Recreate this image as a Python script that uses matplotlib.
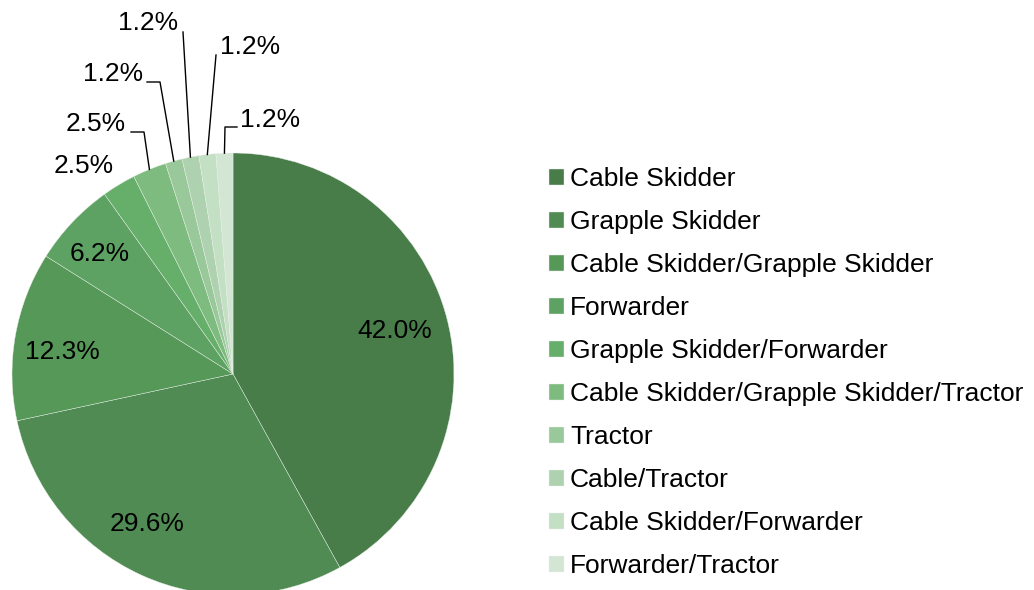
import matplotlib
matplotlib.use("Agg")
import matplotlib.pyplot as plt
import numpy as np

plt.rcParams['font.family'] = ['Liberation Sans', 'DejaVu Sans']

categories = ["Cable Skidder", "Grapple Skidder", "Cable Skidder/Grapple Skidder",
              "Forwarder", "Grapple Skidder/Forwarder",
              "Cable Skidder/Grapple Skidder/Tractor", "Tractor", "Cable/Tractor",
              "Cable Skidder/Forwarder", "Forwarder/Tractor"]
counts = [34, 24, 10, 5, 2, 2, 1, 1, 1, 1]
colors = ["#487D4A", "#4F8B53", "#569858", "#5DA262", "#66AF6A",
          "#7DBB7E", "#99C89A", "#AED2AF", "#C3DFC4", "#D3E6D4"]

W, H = 1034, 590
fig = plt.figure(figsize=(W / 100, H / 100), dpi=100)
cx, cy, R = 233, 374, 221
ax = fig.add_axes([(cx - R) / W, (H - cy - R) / H, 2 * R / W, 2 * R / H])

wedges, _ = ax.pie(counts, colors=colors, startangle=90, counterclock=False,
                   radius=1.0, wedgeprops=dict(edgecolor="#e8f0e8", linewidth=0.3))
ax.set_xlim(-1, 1)
ax.set_ylim(-1, 1)
ax.set_aspect('equal')
ax.axis('off')

def px(x, y):
    return ((x - cx) / R, (cy - y) / R)

total = sum(counts)
pct = [f"{100 * c / total:.1f}%" for c in counts]

# label layout (pixel positions) and optional leader elbow points
label_pos = [(395, 331), (147, 524), (62, 352), (100, 254), (84, 166),
             (96, 124), (113, 74), (148, 23), (250, 47), (270, 120)]
leaders = [None, None, None, None, None,
           [(144, 132), (131, 132)],
           [(160, 82), (147, 82)],
           [(183, 32)],
           [(216, 55)],
           [(225, 127), (237, 127)]]

fs = 19
for w, lab, pos, ld in zip(wedges, pct, label_pos, leaders):
    x, y = px(*pos)
    ax.text(x, y, lab, ha='center', va='center', fontsize=fs, color='black')
    if ld is not None:
        mid = np.deg2rad((w.theta1 + w.theta2) / 2)
        xs = [np.cos(mid)] + [px(*p)[0] for p in ld]
        ys = [np.sin(mid)] + [px(*p)[1] for p in ld]
        ax.plot(xs, ys, color='black', lw=1.0, clip_on=False)

leg = fig.legend(wedges, categories, loc='upper left',
                 bbox_to_anchor=(549 / W, 1 - 167 / H), frameon=False,
                 fontsize=fs, handlelength=0.55, handleheight=0.55,
                 handletextpad=0.25, labelspacing=0.722, borderpad=0,
                 borderaxespad=0)

fig.savefig("out.png", dpi=100)
